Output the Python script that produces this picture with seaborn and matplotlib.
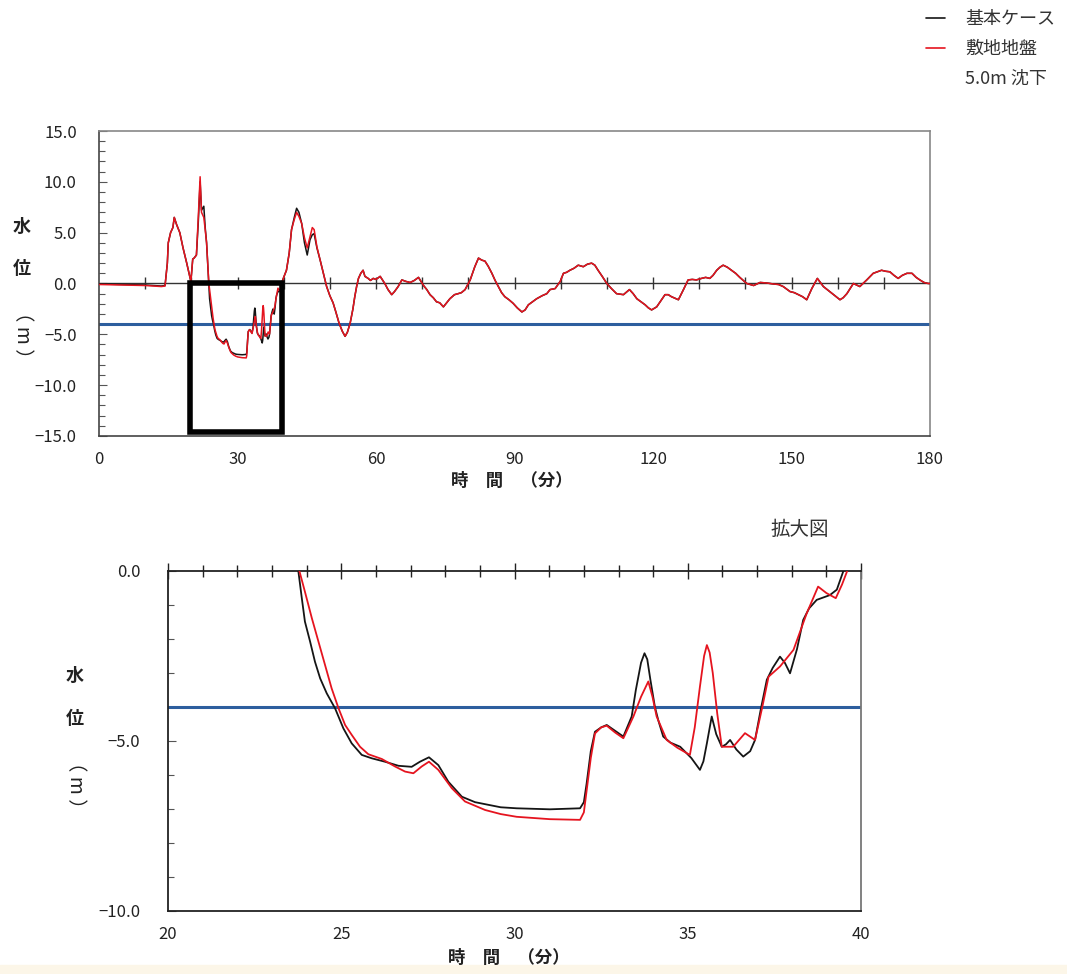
import numpy as np
import pandas as pd
import matplotlib
matplotlib.use("Agg")
import matplotlib.pyplot as plt
from matplotlib.lines import Line2D
from matplotlib.patches import Rectangle
from matplotlib.ticker import MultipleLocator, FuncFormatter
import seaborn as sns

# ---------------- data ----------------
CASES = ["基本ケース", "敷地地盤\n5.0m 沈下"]
LEGEND_LABELS = ["基本ケース", "敷地地盤", "5.0m 沈下"]

# 0 - 23.3 min (shared times)
LEAD_TIME = [0, 5, 10, 13.5, 14.3, 14.8, 15.0, 15.5, 16.0, 16.3, 16.8, 17.5, 18.2, 19.0,
             19.9, 20.3, 20.6, 21.1, 21.5, 21.9, 22.2, 22.7, 23.0, 23.3]
LEAD_BASE = [-0.05, -0.1, -0.15, -0.25, -0.2, 2.0, 4.0, 5.0, 5.5, 6.5, 5.8, 5.0, 3.5, 2.0,
             0.2, 2.4, 2.5, 2.8, 6.0, 10.0, 7.2, 7.6, 5.5, 4.0]
LEAD_SUB = [-0.1, -0.15, -0.2, -0.3, -0.25, 2.0, 4.0, 5.0, 5.5, 6.5, 5.8, 5.0, 3.5, 2.0,
            0.2, 2.4, 2.5, 2.8, 6.5, 10.5, 7.0, 6.5, 5.3, 4.0]

# 23.7 - 39.6 min (enlarged window)
ZOOM_TIME_BASE = [23.76, 23.86, 23.95, 24.10, 24.24, 24.39, 24.58, 24.82, 25.06, 25.30,
                  25.59, 25.88, 26.26, 26.65, 27.03, 27.27, 27.53, 27.80, 28.09, 28.48,
                  28.86, 29.15, 29.6, 30.06, 31.02, 31.89, 32.0, 32.08, 32.2, 32.32, 32.5,
                  32.66, 32.9, 33.14, 33.38, 33.5, 33.65, 33.75, 33.83, 33.92, 34.05, 34.15,
                  34.29, 34.5, 34.78, 35.1, 35.35, 35.45, 35.55, 35.69, 35.82, 35.98, 36.1,
                  36.22, 36.4, 36.6, 36.8, 36.94, 37.1, 37.28, 37.45, 37.66, 37.8, 37.95,
                  38.15, 38.33, 38.5, 38.72, 39.1, 39.3, 39.49]
ZOOM_LEVEL_BASE = [0.0, -0.80, -1.49, -2.08, -2.67, -3.16, -3.6, -4.04, -4.63, -5.07,
                   -5.41, -5.51, -5.61, -5.73, -5.76, -5.61, -5.48, -5.71, -6.2, -6.64,
                   -6.8, -6.86, -6.95, -6.98, -7.01, -6.98, -6.8, -6.25, -5.3, -4.73, -4.6,
                   -4.53, -4.7, -4.87, -4.28, -3.5, -2.7, -2.42, -2.6, -3.2, -4.0, -4.4,
                   -4.87, -5.05, -5.17, -5.5, -5.85, -5.6, -5.07, -4.28, -4.8, -5.17, -5.1,
                   -4.97, -5.25, -5.46, -5.3, -4.97, -4.1, -3.2, -2.85, -2.52, -2.7, -3.01,
                   -2.3, -1.44, -1.1, -0.85, -0.71, -0.55, 0.0]
ZOOM_TIME_SUB = [23.79, 23.95, 24.15, 24.34, 24.53, 24.72, 24.92, 25.11, 25.30, 25.54,
                 25.78, 26.17, 26.55, 26.84, 27.08, 27.32, 27.53, 27.80, 28.19, 28.57,
                 29.15, 29.6, 30.06, 31.02, 31.89, 32.0, 32.08, 32.2, 32.32, 32.5, 32.66,
                 32.9, 33.14, 33.43, 33.65, 33.86, 33.98, 34.1, 34.39, 34.7, 35.06, 35.2,
                 35.35, 35.47, 35.55, 35.63, 35.72, 35.85, 35.98, 36.31, 36.65, 36.94,
                 37.15, 37.33, 37.66, 38.05, 38.43, 38.76, 39.0, 39.27, 39.45, 39.6]
ZOOM_LEVEL_SUB = [0.0, -0.61, -1.39, -2.08, -2.76, -3.45, -4.04, -4.53, -4.82, -5.17,
                  -5.39, -5.53, -5.75, -5.9, -5.95, -5.75, -5.61, -5.85, -6.39, -6.78,
                  -7.03, -7.15, -7.23, -7.3, -7.32, -7.1, -6.45, -5.5, -4.78, -4.6, -4.55,
                  -4.75, -4.92, -4.28, -3.7, -3.25, -3.7, -4.28, -4.97, -5.2, -5.41, -4.6,
                  -3.4, -2.5, -2.18, -2.4, -3.0, -4.2, -5.17, -5.17, -4.77, -4.97,
                  -4.0, -3.11, -2.81, -2.32, -1.25, -0.46, -0.65, -0.8, -0.4, 0.0]

# 40 - 48 min (shared times)
POST_TIME = [40.0, 40.6, 41.2, 41.7, 42.3, 42.8, 43.3, 43.9, 44.5, 45.1, 45.7, 46.2, 46.6,
             47.2, 47.9]
POST_BASE = [0.6, 1.3, 3.0, 5.3, 6.5, 7.4, 7.0, 5.9, 4.0, 2.8, 4.3, 4.8, 4.9, 3.5, 2.3]
POST_SUB = [0.6, 1.3, 3.0, 5.3, 6.3, 7.0, 6.6, 5.9, 4.5, 3.5, 4.6, 5.5, 5.3, 3.6, 2.3]

# 48.6 - 180 min (both cases practically identical)
TAIL_TIME = [48.6, 49.3, 50.0, 50.7, 51.3, 52.0, 52.7, 53.3, 53.8, 54.4, 55.0, 55.4, 55.8,
             56.2, 56.7, 57.2, 57.6, 58.3, 58.8, 59.4, 60.0, 60.9, 61.9, 62.6, 63.4, 64.0,
             64.8, 65.6, 66.5, 67.4, 68.3, 69.2, 70.3, 71.0, 71.7, 72.4, 73.1, 73.8, 74.6,
             75.3, 76.0, 77.0, 77.8, 78.5, 79.3, 80.4, 81.4, 82.2, 82.9, 83.6, 84.3, 85.1,
             85.8, 86.5, 87.2, 87.9, 88.8, 89.7, 90.6, 91.6, 92.3, 93.0, 93.9, 94.8, 96.0,
             97.0, 97.7, 98.8, 99.9, 100.6, 101.3, 102.0, 102.9, 103.8, 104.9, 105.8,
             106.7, 107.4, 108.1, 109.0, 110.0, 111.0, 112.1, 113.6, 114.9, 115.7, 116.5,
             117.4, 118.3, 119.0, 119.7, 120.8, 121.7, 122.6, 123.3, 124.0, 125.5, 126.6,
             127.6, 128.5, 129.4, 130.5, 131.4, 132.3, 133.0, 133.8, 134.5, 135.2, 136.1,
             137.0, 137.9, 138.8, 140.3, 141.8, 143.2, 144.6, 146.1, 147.2, 148.2, 149.7,
             150.6, 151.5, 152.4, 153.3, 154.4, 155.6, 156.9, 158.3, 159.4, 160.5, 161.2,
             162.0, 163.4, 164.8, 166.3, 167.7, 169.5, 170.4, 171.3, 172.2, 173.1, 174.0,
             175.0, 176.1, 177.0, 177.8, 178.7, 179.6, 180.0]
TAIL_LEVEL = [1.0, -0.3, -1.2, -1.9, -2.8, -3.9, -4.7, -5.2, -4.8, -3.9, -2.5, -1.3, -0.3,
              0.5, 1.0, 1.3, 0.7, 0.5, 0.3, 0.5, 0.4, 0.7, 0.0, -0.6, -1.1, -0.8,
              -0.3, 0.35, 0.2, 0.1, 0.3, 0.6, -0.2, -0.6, -1.1, -1.4, -1.8, -1.9, -2.3,
              -1.9, -1.5, -1.1, -1.0, -0.9, -0.6, 0.35, 1.65, 2.5, 2.3, 2.2, 1.7, 1.0,
              0.3, -0.3, -0.9, -1.3, -1.6, -1.95, -2.4, -2.8, -2.6, -2.1, -1.8, -1.5, -1.2,
              -1.0, -0.6, -0.5, 0.2, 1.0, 1.1, 1.3, 1.5, 1.8, 1.65, 1.9,
              2.0, 1.8, 1.3, 0.7, 0.0, -0.5, -1.0, -1.1, -0.6, -1.0, -1.5,
              -1.8, -2.1, -2.4, -2.6, -2.3, -1.7, -1.1, -1.1, -1.3, -1.6, -0.6,
              0.35, 0.4, 0.35, 0.5, 0.6, 0.5, 0.8, 1.3, 1.6, 1.8, 1.6,
              1.3, 1.0, 0.6, 0.0, -0.2, 0.1, 0.05, -0.05, -0.1, -0.3, -0.8,
              -0.9, -1.1, -1.3, -1.6, -0.5, 0.5, -0.3, -0.8, -1.2, -1.6, -1.4,
              -1.0, 0.0, -0.3, 0.35, 1.0, 1.3, 1.2, 1.15, 0.8, 0.5, 0.8,
              1.0, 1.0, 0.6, 0.35, 0.1, 0.0, 0.0]

THRESHOLD_LEVEL = -4.0               # blue reference line
ZOOM_BOX = (19.8, -14.6, 39.6, 0.0)  # highlighted window (t0, y0, t1, y1)

# ---------------- build long table ----------------
time_base = LEAD_TIME + ZOOM_TIME_BASE + POST_TIME + TAIL_TIME
level_base = LEAD_BASE + ZOOM_LEVEL_BASE + POST_BASE + TAIL_LEVEL
time_sub = LEAD_TIME + ZOOM_TIME_SUB + POST_TIME + TAIL_TIME
level_sub = LEAD_SUB + ZOOM_LEVEL_SUB + POST_SUB + TAIL_LEVEL
df = pd.concat([
    pd.DataFrame({"time": time_base, "level": level_base, "case": CASES[0]}),
    pd.DataFrame({"time": time_sub, "level": level_sub, "case": CASES[1]}),
], ignore_index=True)

COLORS = {CASES[0]: "#151515", CASES[1]: "#e5141f"}
BLUE = "#2d5e9e"

# ---------------- style ----------------
sns.set_theme(style="white")
plt.rcParams["font.family"] = ["Noto Sans CJK JP", "DejaVu Sans"]
plt.rcParams["axes.unicode_minus"] = True

fig = plt.figure(figsize=(10.67, 9.74), dpi=100)
fig.patch.set_facecolor("white")

fmt = FuncFormatter(lambda v, p: f"{v:.1f}".replace("-", "\u2212"))

# ---------------- top chart ----------------
ax1 = fig.add_axes([0.0928, 0.5524, 0.7788, 0.3131])
ax1.axhline(0, color="#333333", lw=1.0, zorder=1)
ax1.axhline(THRESHOLD_LEVEL, color=BLUE, lw=2.2, zorder=2)
sns.lineplot(data=df, x="time", y="level", hue="case", palette=COLORS,
             estimator=None, legend=False, lw=1.1, ax=ax1, zorder=3)
t0, y0, t1, y1 = ZOOM_BOX
ax1.add_patch(Rectangle((t0, y0), t1 - t0, y1 - y0, fill=False, ec="black",
                        lw=4, zorder=5, joinstyle="miter"))
ax1.set_xlim(0, 180)
ax1.set_ylim(-15, 15)
ax1.xaxis.set_major_locator(MultipleLocator(30))
ax1.yaxis.set_major_locator(MultipleLocator(5))
ax1.yaxis.set_minor_locator(MultipleLocator(1))
ax1.yaxis.set_major_formatter(fmt)
ax1.tick_params(axis="x", which="both", bottom=False, top=False, labelsize=12,
                pad=5, labelcolor="#222222")
ax1.tick_params(axis="y", which="major", left=True, direction="in", length=6,
                width=0.8, color="#555555", labelsize=12, pad=16, labelcolor="#222222")
ax1.tick_params(axis="y", which="minor", left=True, direction="in", length=4,
                width=0.8, color="#555555")
ax1.set_xlabel("")
ax1.set_ylabel("")
for side, col in {"left": "#444444", "bottom": "#444444", "top": "#888888",
                  "right": "#888888"}.items():
    ax1.spines[side].set_color(col)
    ax1.spines[side].set_linewidth(1.2)
# tick marks along the zero line
sec = ax1.secondary_xaxis(0.5)
sec.set_xticks(np.arange(10, 180, 10))
sec.tick_params(axis="x", direction="inout", length=8, width=1.0, color="#333333",
                labelbottom=False, labeltop=False)
for s in sec.spines.values():
    s.set_visible(False)

# ---------------- bottom chart ----------------
ax2 = fig.add_axes([0.1575, 0.0647, 0.6495, 0.3491])
ax2.axhline(THRESHOLD_LEVEL, color=BLUE, lw=2.2, zorder=2)
sns.lineplot(data=df, x="time", y="level", hue="case", palette=COLORS,
             estimator=None, legend=False, lw=1.3, ax=ax2, zorder=3)
ax2.set_xlim(20, 40)
ax2.set_ylim(-10, 0)
ax2.xaxis.set_major_locator(MultipleLocator(5))
ax2.xaxis.set_minor_locator(MultipleLocator(1))
ax2.yaxis.set_major_locator(MultipleLocator(5))
ax2.yaxis.set_minor_locator(MultipleLocator(1))
ax2.yaxis.set_major_formatter(fmt)
ax2.tick_params(axis="x", which="major", bottom=False, top=True, labelbottom=True,
                labeltop=False, direction="inout", length=11, width=1.0,
                color="#222222", labelsize=12, pad=5, labelcolor="#222222")
ax2.tick_params(axis="x", which="minor", bottom=False, top=True, direction="inout",
                length=8, width=1.0, color="#222222")
ax2.tick_params(axis="y", which="major", left=True, direction="in", length=6,
                width=0.8, color="#555555", labelsize=12, pad=20, labelcolor="#222222")
ax2.tick_params(axis="y", which="minor", left=True, direction="in", length=4,
                width=0.8, color="#555555")
ax2.set_xlabel("")
ax2.set_ylabel("")
for side, col in {"left": "#222222", "bottom": "#222222", "top": "#222222",
                  "right": "#777777"}.items():
    ax2.spines[side].set_color(col)
    ax2.spines[side].set_linewidth(1.3)

# ---------------- labels ----------------
def ylab(x, ys):
    fig.text(x, ys[0], "水", ha="center", va="center", fontsize=13, weight="bold",
             color="#222222")
    fig.text(x, ys[1], "位", ha="center", va="center", fontsize=13, weight="bold",
             color="#222222")
    fig.text(x, ys[2], "（ m ）", ha="center", va="center", fontsize=14,
             rotation=270, color="#222222")

ylab(0.0206, (0.767, 0.7248, 0.656))
ylab(0.0703, (0.306, 0.2628, 0.194))

fig.text(0.480, 0.5065, "時　間　（分）", ha="center", va="center", fontsize=12.5,
         weight="bold", color="#222222")
fig.text(0.477, 0.0164, "時　間　（分）", ha="center", va="center", fontsize=12.5,
         weight="bold", color="#222222")
fig.text(0.7498, 0.4559, "拡大図", ha="center", va="center", fontsize=14,
         color="#333333")

handles = [Line2D([], [], color=COLORS[CASES[0]], lw=1.2),
           Line2D([], [], color=COLORS[CASES[1]], lw=1.2),
           Line2D([], [], color="none", lw=0)]
leg = fig.legend(handles, LEGEND_LABELS, loc="upper left", bbox_to_anchor=(0.859, 0.999),
                 frameon=False, fontsize=13, handlelength=1.1, handletextpad=1.1,
                 borderpad=0.0, labelspacing=0.66)
for t in leg.get_texts():
    t.set_color("#333333")

fig.add_artist(Rectangle((0, 0), 1, 9 / 974, transform=fig.transFigure,
                         color="#fcf6e8", zorder=0))

fig.savefig("out.png", dpi=100)
